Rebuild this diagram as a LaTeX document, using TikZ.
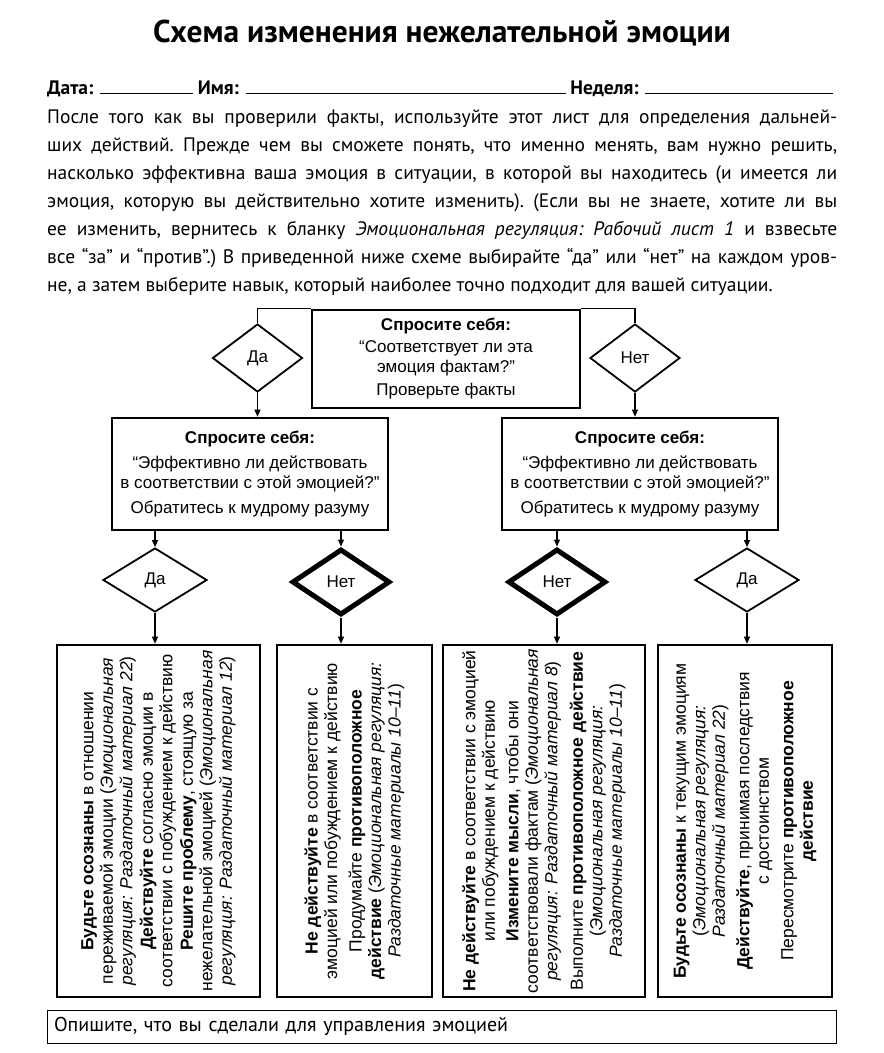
\documentclass[tikz,border=0pt]{standalone}
\usepackage{fontspec}
\setmainfont{Liberation Sans}
\newfontfamily\sheetfont{PT Sans}
\usetikzlibrary{shapes.geometric, arrows.meta, positioning}

\begin{document}
\begin{tikzpicture}[
  x=1pt, y=-1pt,
  askbox/.style = {
    rectangle, draw, line width=2.6pt,
    inner sep=0pt, align=center,
    font=\fontsize{17}{20}\selectfont
  },
  choice/.style = {
    diamond, draw, line width=1.8pt, inner sep=0pt,
    minimum width=104pt, minimum height=64pt,
    font=\fontsize{17}{20}\selectfont
  },
  strong/.style = {choice, line width=5pt, minimum width=98pt, minimum height=66pt},
  card/.style = {rectangle, draw, line width=2.6pt, minimum height=352pt},
  cardtext/.style = {
    rotate=90, align=center, inner sep=0pt,
    font=\fontsize{17.5}{19.5}\selectfont
  },
  arrow/.style = {-{Triangle[length=7pt, width=6pt]}, line width=1.2pt},
  link/.style = {line width=1.2pt}
]
\useasboundingbox (0,0) rectangle (884,1053);
%--- ЗАГОЛОВОК ---
\node[font=\sheetfont\bfseries\fontsize{31.5}{36}\selectfont] (title) at (442,33)
  {Схема изменения нежелательной эмоции};
\node[anchor=base west, inner sep=0pt,
      font=\sheetfont\bfseries\fontsize{19.5}{24}\selectfont] (fields) at (47,94)
  {Дата: \rule{93pt}{0.8pt} Имя: \rule{320pt}{0.8pt} Неделя: \rule{188pt}{0.8pt}};
\node[anchor=north west, inner sep=0pt, text width=790pt, align=justify,
      font=\sheetfont\frenchspacing\fontsize{19.5}{28}\selectfont] (intro) at (47,110)
  {После того как вы проверили факты, используйте этот лист для определения дальней-\linebreak
   ших действий. Прежде чем вы сможете понять, что именно менять, вам нужно решить,\linebreak
   насколько эффективна ваша эмоция в ситуации, в которой вы находитесь (и имеется ли\linebreak
   эмоция, которую вы действительно хотите изменить). (Если вы не знаете, хотите ли вы\linebreak
   ее изменить, вернитесь к бланку \textit{Эмоциональная регуляция: Рабочий лист 1} и взвесьте\linebreak
   все “за” и “против”.) В приведенной ниже схеме выбирайте “да” или “нет” на каждом уров-\linebreak
   не, а затем выберите навык, который наиболее точно подходит для вашей ситуации.};
%--- УРОВЕНЬ 1: ФАКТЫ ---
\node[askbox, minimum width=268pt, minimum height=98pt] (facts) at (446,359)
  {\textbf{Спросите себя:}\\[2pt] “Соответствует ли эта\\ эмоция фактам?”\\[3pt] Проверьте факты};
\node[choice, minimum width=90pt, minimum height=68pt] (yes0) at (257.5,358) {Да};
\node[choice, minimum width=90pt, minimum height=68pt] (no0)  at (635,358)   {Нет};
%--- УРОВЕНЬ 2: МУДРЫЙ РАЗУМ ---
\node[askbox, minimum width=276pt, minimum height=112pt] (askl) at (250,474)
  {\textbf{Спросите себя:}\\[5pt] “Эффективно ли действовать\\ в соответствии с этой эмоцией?”\\[5pt] Обратитесь к мудрому разуму};
\node[askbox, minimum width=276pt, minimum height=112pt] (askr) at (640,474)
  {\textbf{Спросите себя:}\\[5pt] “Эффективно ли действовать\\ в соответствии с этой эмоцией?”\\[5pt] Обратитесь к мудрому разуму};
%--- УРОВЕНЬ 3: ВЫБОР ---
\node[choice] (yes1) at (155,580) {Да};
\node[strong] (no1)  at (341,582) {Нет};
\node[strong] (no2)  at (557,582) {Нет};
\node[choice] (yes2) at (747,580) {Да};
%--- НАВЫКИ ---
\node[card, minimum width=203pt] (card1) at (158.5,821) {};
\node[card, minimum width=155pt] (card2) at (354.5,821) {};
\node[card, minimum width=202pt] (card3) at (544,821)   {};
\node[card, minimum width=174pt] (card4) at (745,821)   {};
\node[cardtext] (skill1) at (card1)
  {\textbf{Будьте осознаны} в отношении\\
   переживаемой эмоции (\textit{Эмоциональная}\\
   \textit{регуляция: Раздаточный материал 22})\\[1pt]
   \textbf{Действуйте} согласно эмоции в\\
   соответствии с побуждением к действию\\[1pt]
   \textbf{Решите проблему}, стоящую за\\
   нежелательной эмоцией (\textit{Эмоциональная}\\
   \textit{регуляция: Раздаточный материал 12})};
\node[cardtext] (skill2) at (card2)
  {\textbf{Не действуйте} в соответствии с\\
   эмоцией или побуждением к действию\\[5pt]
   Продумайте \textbf{противоположное}\\
   \textbf{действие} (\textit{Эмоциональная регуляция:}\\
   \textit{Раздаточные материалы 10–11})};
\node[cardtext] (skill3) at (card3)
  {\textbf{Не действуйте} в соответствии с эмоцией\\
   или побуждением к действию\\[4pt]
   \textbf{Измените мысли}, чтобы они\\
   соответствовали фактам (\textit{Эмоциональная}\\
   \textit{регуляция: Раздаточный материал 8})\\[6pt]
   Выполните \textbf{противоположное действие}\\
   (\textit{Эмоциональная регуляция:}\\
   \textit{Раздаточные материалы 10–11})};
\node[cardtext] (skill4) at (card4)
  {\textbf{Будьте осознаны} к текущим эмоциям\\
   (\textit{Эмоциональная регуляция:}\\
   \textit{Раздаточный материал 22})\\[5pt]
   \textbf{Действуйте}, принимая последствия\\
   с достоинством\\[5pt]
   Пересмотрите \textbf{противоположное}\\
   \textbf{действие}};
%--- ИТОГ ---
\node[draw, line width=1pt, minimum width=789pt, minimum height=33pt,
      text width=775pt, align=left, inner xsep=7pt,
      font=\sheetfont\fontsize{20}{22}\selectfont] (note) at (441.5,1026.5)
  {Опишите, что вы сделали для управления эмоцией};
%--- СТРЕЛКИ ---
\draw[link] (facts.north west) -| (yes0);
\draw[link] (facts.north east) -| (no0);
\draw[arrow] (yes0) -- (yes0 |- askl.north);
\draw[arrow] (no0)  -- (no0 |- askr.north);
\draw[arrow] (yes1 |- askl.south) -- (yes1);
\draw[arrow] (no1 |- askl.south)  -- (no1);
\draw[arrow] (no2 |- askr.south)  -- (no2);
\draw[arrow] (yes2 |- askr.south) -- (yes2);
\draw[arrow] (yes1) -- (yes1 |- card1.north);
\draw[arrow] (no1)  -- (no1 |- card2.north);
\draw[arrow] (no2)  -- (no2 |- card3.north);
\draw[arrow] (yes2) -- (yes2 |- card4.north);
\end{tikzpicture}
\end{document}
